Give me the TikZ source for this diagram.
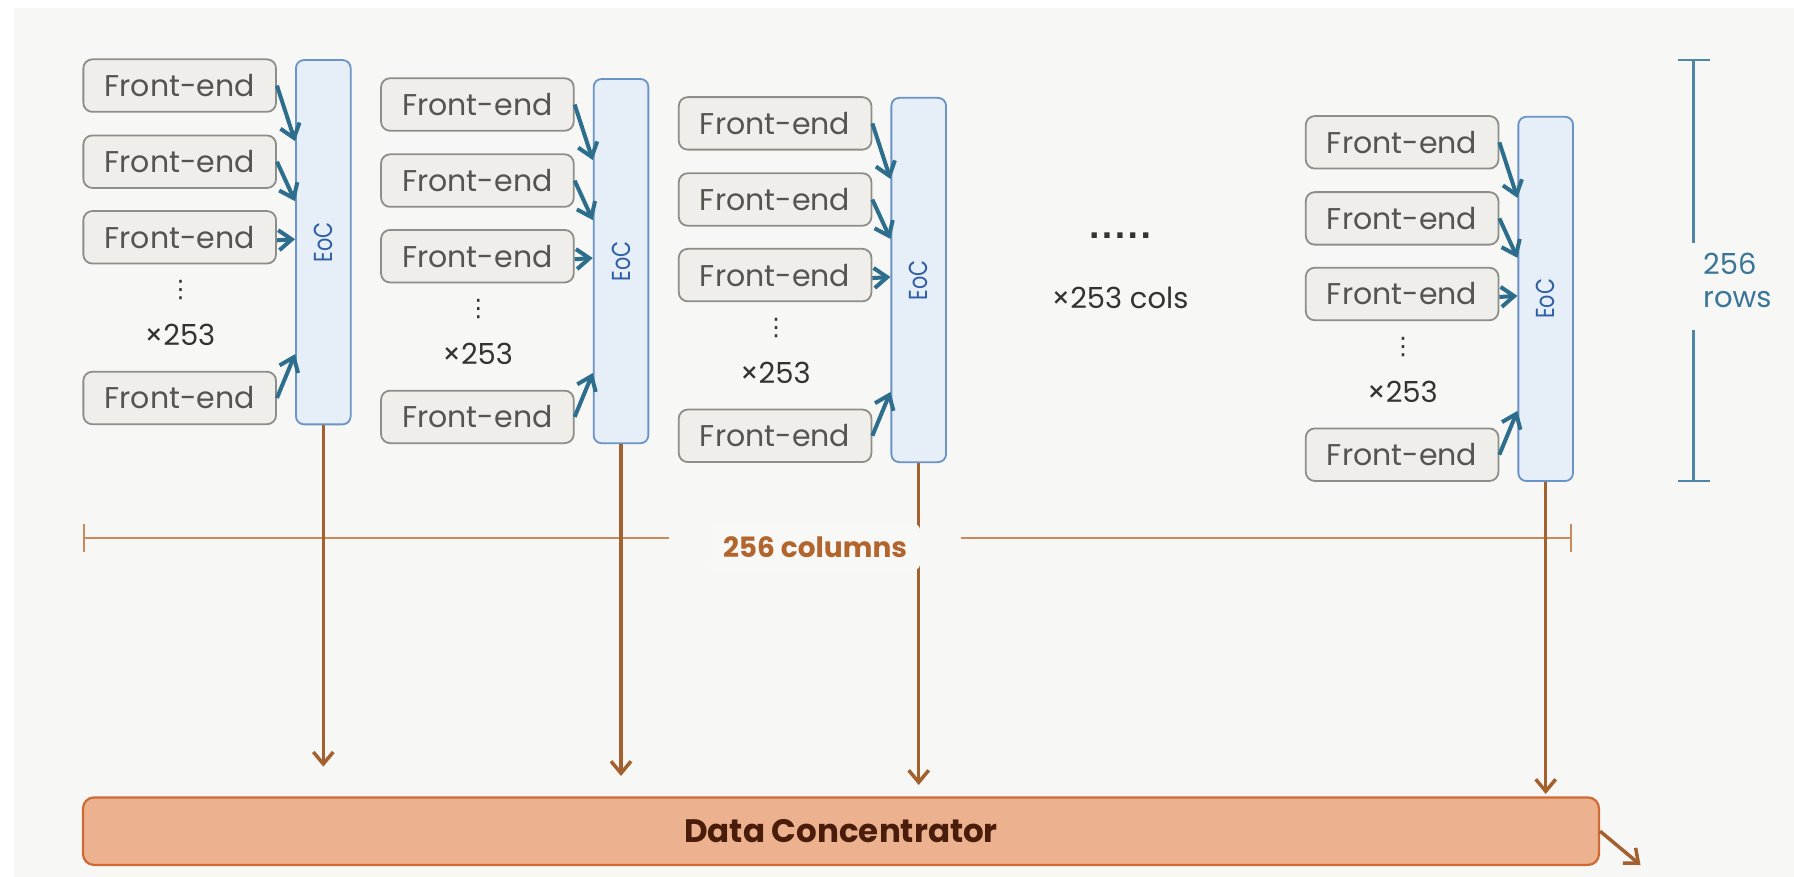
\documentclass[tikz,border=0pt]{standalone}
\usepackage{fontspec}
\setmainfont{Poppins}
\newfontfamily\dejavu{DejaVu Sans}
\usetikzlibrary{arrows.meta,calc}
\definecolor{bg}{HTML}{F7F7F5}
\definecolor{fefill}{HTML}{EFEEEA}
\definecolor{feline}{HTML}{8E8E89}
\definecolor{fetext}{HTML}{55554F}
\definecolor{eocfill}{HTML}{E6EEF8}
\definecolor{eocline}{HTML}{6A93C8}
\definecolor{eoctext}{HTML}{2F5EA5}
\definecolor{teal1}{HTML}{2C6E8C}
\definecolor{brown1}{HTML}{A3612F}
\definecolor{colline}{HTML}{C98A5C}
\definecolor{coltext}{HTML}{B2652D}
\definecolor{rowline}{HTML}{4F86A6}
\definecolor{rowtext}{HTML}{3A7598}
\definecolor{dcfill}{HTML}{ECB18E}
\definecolor{dcline}{HTML}{D06A35}
\definecolor{dctext}{HTML}{4A1C0A}
\definecolor{darktext}{HTML}{333333}
\definecolor{labelbg}{HTML}{F8F8F7}
\tikzset{
  fe/.style={draw=feline, fill=fefill, line width=1.8pt, rounded corners=9pt,
    minimum width=192.7pt, minimum height=52.5pt, inner sep=0pt, text=fetext,
    font=\fontsize{30}{36}\selectfont},
  eocbox/.style={draw=eocline, fill=eocfill, line width=1.8pt, rounded corners=8pt,
    minimum width=54.7pt, minimum height=364.3pt, inner sep=0pt},
  eoclabel/.style={rotate=90, text=eoctext, inner sep=0pt, font=\fontsize{26}{26}\selectfont},
  tarrow/.style={draw=teal1, line width=4pt, -{Straight Barb[length=13pt,width=20pt]}},
  barrow/.style={draw=brown1, line width=3.5pt, -{Straight Barb[length=12pt,width=20pt]}},
  plain/.style={text=darktext, inner sep=0pt, font=\fontsize{29}{34}\selectfont},
  vdotsty/.style={text=darktext, inner sep=0pt, font=\dejavu\fontsize{24}{24}\selectfont},
}
\begin{document}
\begin{tikzpicture}[x=1pt,y=-1pt]
\useasboundingbox (0,0) rectangle (1794,877);
\fill[white] (0,0) rectangle (1794,877);
\fill[bg] (14,8) rectangle (1794,877);

% columns bracket
\draw[colline, line width=2.2pt] (84,524) -- (84,552);
\draw[colline, line width=2.2pt] (84,537.7) -- (668.5,537.7);
\draw[colline, line width=2.2pt] (960.7,537.7) -- (1571,537.7);
\draw[colline, line width=2.2pt] (1571,524) -- (1571,552);

% data concentrator
\node[draw=dcline, fill=dcfill, line width=2.2pt, rounded corners=11pt,
  minimum width=1516pt, minimum height=67.5pt, inner sep=0pt, text=dctext,
  font=\bfseries\fontsize{32.5}{36}\selectfont] (dc) at (841,831.2) {Data Concentrator};

\foreach \c/\dx/\dy/\ty in {1/0/0/766.7, 2/297.7/18.9/776, 3/595.4/37.8/785, 4/1222.4/56.7/794}{
  \node[fe] (f\c a) at (179.7+\dx, 85.6+\dy) {Front-end};
  \node[fe] (f\c b) at (179.7+\dx, 161.7+\dy) {Front-end};
  \node[fe] (f\c c) at (179.7+\dx, 237.3+\dy) {Front-end};
  \node[fe] (f\c d) at (179.7+\dx, 398+\dy) {Front-end};
  \node[vdotsty] (v\c) at (180.7+\dx, 290+\dy) {⋮};
  \node[plain] (m\c) at (180+\dx, 335+\dy) {×253};
  \node[eocbox] (e\c) at (323.3+\dx, 242.2+\dy) {};
  \node[eoclabel] (el\c) at (e\c) {\scalebox{0.8}[1]{EoC}};
  \draw[tarrow] (f\c a.east) -- ($(e\c.north west)+(0,82)$);
  \draw[tarrow] (f\c b.east) -- ($(e\c.north west)+(0,142)$);
  \draw[tarrow] ($(f\c c.east)+(0,3)$) -- ($(e\c.north west)+(0,180)$);
  \draw[tarrow] (f\c d.east) -- ($(e\c.north west)+(0,295)$);
  \coordinate (t\c) at (323.3+\dx, \ty);
  \draw[barrow] (e\c.south) -- (t\c);
}

% output arrow
\coordinate (out) at (1640.5,865);
\draw[barrow] (dc.east) -- (out);

% columns label
\node[fill=labelbg, rounded corners=6pt, text=coltext, minimum width=210pt,
  minimum height=46pt, inner sep=0pt, font=\bfseries\fontsize{28}{32}\selectfont]
  (collab) at (815,547) {256 columns};

% more columns
\node[text=darktext, inner sep=0pt, font=\dejavu\bfseries\fontsize{30}{34}\selectfont]
  (dots) at (1120,236) {.\kern1.5pt.\kern1.5pt.\kern1.5pt.\kern1.5pt.};
\node[plain] (cols) at (1120,298) {×253 cols};

% rows bracket
\draw[rowline, line width=2.4pt] (1678,60) -- (1710,60);
\draw[rowline, line width=2.4pt] (1693.3,60) -- (1693.3,243);
\draw[rowline, line width=2.4pt] (1693.3,330) -- (1693.3,481);
\draw[rowline, line width=2.4pt] (1678,481) -- (1710,481);
\node[anchor=west, align=left, text=rowtext, inner sep=0pt,
  font=\fontsize{29}{33}\selectfont] (rows) at (1703,280) {256\\rows};
\end{tikzpicture}
\end{document}
